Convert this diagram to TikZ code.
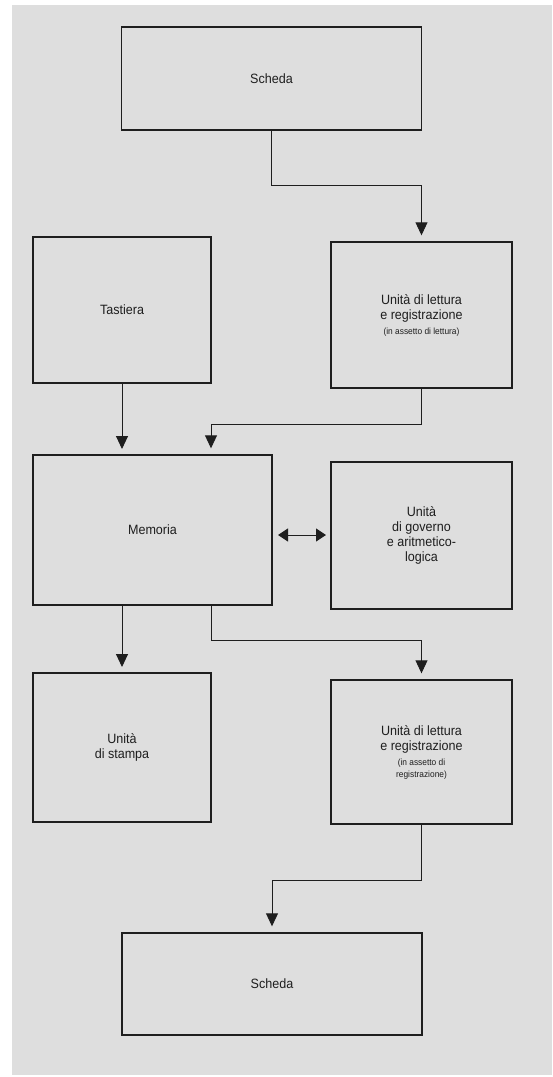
\documentclass[tikz,border=0pt]{standalone}
\usepackage{fontspec}
\setmainfont{Liberation Sans}[FakeStretch=0.93]
\usetikzlibrary{arrows.meta}
\definecolor{paper}{RGB}{222,222,222}
\definecolor{ink}{RGB}{30,30,30}
\tikzset{
  box/.style={draw=ink, line width=1.4pt, rectangle, inner sep=2pt, align=center,
              text=ink, font=\fontsize{13.5}{15}\selectfont},
  conn/.style={draw=ink, line width=0.9pt, -{Triangle[width=12pt,length=13pt]}, shorten >=6pt},
  both/.style={draw=ink, line width=0.9pt, {Triangle[width=13pt,length=10pt]}-{Triangle[width=13pt,length=10pt]}, shorten >=5pt, shorten <=6pt},
}
\newcommand{\smalltxt}[1]{{\fontsize{9}{11}\selectfont #1}}
\begin{document}
\begin{tikzpicture}[x=1pt,y=-1pt]
\useasboundingbox (0,0) rectangle (552,1077);
\fill[white] (0,0) rectangle (552,1077);
\fill[paper] (12,5) rectangle (552,1075);

\node[box, minimum width=300pt, minimum height=103pt] (s1) at (271.5,78.5) {Scheda};
\node[box, minimum width=178pt, minimum height=146pt] (tas) at (122,310) {Tastiera};
\node[box, minimum width=181pt, minimum height=146pt] (l1) at (421.5,315) {Unità di lettura\\e registrazione\\\smalltxt{(in assetto di lettura)}};
\node[box, minimum width=239pt, minimum height=150pt] (mem) at (152.5,530) {Memoria};
\node[box, minimum width=181pt, minimum height=147pt] (gov) at (421.5,535.5) {Unità\\di governo\\e aritmetico-\\logica};
\node[box, minimum width=178pt, minimum height=149pt] (sta) at (122,747.5) {Unità\\di stampa};
\node[box, minimum width=181pt, minimum height=144pt] (l2) at (421.5,752) {Unità di lettura\\e registrazione\\\smalltxt{(in assetto di}\\[-3pt]\smalltxt{registrazione)}};
\node[box, minimum width=300pt, minimum height=102pt] (s2) at (272,984) {Scheda};

\coordinate (c1) at (271.5,185);
\coordinate (c2) at (211,424);
\coordinate (c3) at (211,640);
\coordinate (c4) at (421.5,880);
\coordinate (c5) at (272,880);
\coordinate (c6) at (122,455);
\coordinate (c7) at (122,673);
\coordinate (dl) at (272,535);
\coordinate (dr) at (331,535);

\draw[conn] (s1.south) -- (c1) -| (l1.north);
\draw[conn] (tas.south) -- (c6);
\draw[conn] (l1.south) |- (c2) -- (c2 |- mem.north);
\draw[both] (dl) -- (dr);
\draw[conn] (c6 |- mem.south) -- (c7);
\draw[conn] (c3 |- mem.south) -- (c3) -| (l2.north);
\draw[conn] (l2.south) -- (c4) -- (c5) -- (s2.north);
\end{tikzpicture}
\end{document}
